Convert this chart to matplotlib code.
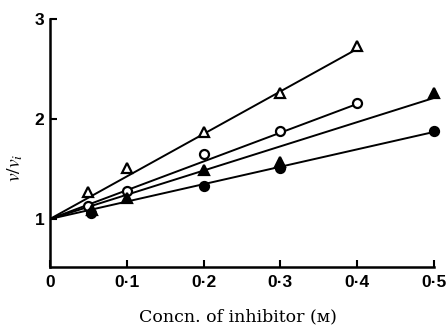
import matplotlib
matplotlib.use("Agg")
import matplotlib.pyplot as plt
import numpy as np

plt.rcParams['mathtext.fontset'] = 'stix'

# series: x = inhibitor concn (M), y = v/v_i
open_tri_x = [0.05, 0.1, 0.2, 0.3, 0.4]
open_tri_y = [1.27, 1.51, 1.87, 2.26, 2.73]
open_tri_end = [0.4, 2.70]

open_circ_x = [0.05, 0.1, 0.2, 0.3, 0.4]
open_circ_y = [1.13, 1.28, 1.65, 1.88, 2.16]
open_circ_end = [0.4, 2.15]

filled_tri_x = [0.055, 0.1, 0.2, 0.3, 0.5]
filled_tri_y = [1.09, 1.21, 1.49, 1.57, 2.26]
filled_tri_end = [0.5, 2.21]

filled_circ_x = [0.053, 0.2, 0.3, 0.5]
filled_circ_y = [1.06, 1.33, 1.51, 1.88]
filled_circ_end = [0.5, 1.87]

x_ticks = [0, 0.1, 0.2, 0.3, 0.4, 0.5]
x_labels = ['0', '0·1', '0·2', '0·3', '0·4', '0·5']
y_ticks = [1, 2, 3]

fig = plt.figure(figsize=(4.48, 3.26), dpi=100)
ax = fig.add_axes([0.1116, 0.181, 0.857, 0.761])

series = [
    (open_tri_x, open_tri_y, open_tri_end, '^', 'white'),
    (open_circ_x, open_circ_y, open_circ_end, 'o', 'white'),
    (filled_tri_x, filled_tri_y, filled_tri_end, '^', 'black'),
    (filled_circ_x, filled_circ_y, filled_circ_end, 'o', 'black'),
]

# fitted lines all start at (0, 1)
for xs, ys, end, m, fc in series:
    ax.plot([0, end[0]], [1, end[1]], color='black', lw=1.4, zorder=2)
for xs, ys, end, m, fc in series:
    ax.plot(xs, ys, linestyle='none', marker=m, markersize=6.5,
            markerfacecolor=fc, markeredgecolor='black', markeredgewidth=1.6,
            zorder=3, clip_on=False)

ax.set_xlim(0, 0.5)
ax.set_ylim(0.52, 3.0)
ax.set_xticks(x_ticks)
ax.set_xticklabels(x_labels, fontfamily='Liberation Sans', fontweight='bold', fontsize=12.5)
ax.set_yticks(y_ticks)
ax.set_yticklabels([str(t) for t in y_ticks], fontfamily='Liberation Sans', fontweight='bold', fontsize=12.5)
ax.tick_params(direction='in', length=5, width=1.5)
ax.tick_params(axis='x', pad=6)
ax.tick_params(axis='y', pad=4)

for side in ['top', 'right']:
    ax.spines[side].set_visible(False)
for side in ['left', 'bottom']:
    ax.spines[side].set_linewidth(1.8)

ax.set_xlabel('Concn. of inhibitor (ᴍ)', fontfamily='DejaVu Serif', fontsize=12.5)
ax.xaxis.set_label_coords(0.49, -0.165)
ax.set_ylabel(r'$v/v_i$', fontsize=14)
ax.yaxis.set_label_coords(-0.065, 0.40)

fig.savefig('out.png', dpi=100)
